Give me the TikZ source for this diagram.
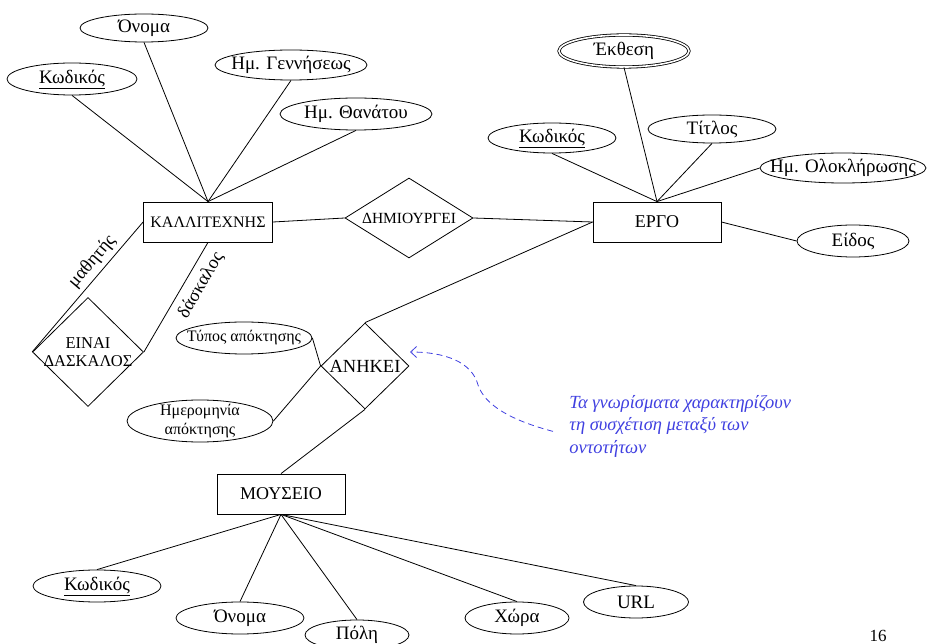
\documentclass[tikz,border=0pt]{standalone}
\usepackage{fontspec}
\setmainfont{Liberation Serif}
\usetikzlibrary{shapes.geometric,arrows.meta}
\definecolor{notecol}{RGB}{64,64,224}
\begin{document}
\begin{tikzpicture}[x=1pt,y=-1pt, line width=0.8pt,
  attr/.style={ellipse, draw, inner sep=-40pt, font=\fontsize{19}{21}\selectfont},
  sattr/.style={ellipse, draw, inner sep=-40pt, align=center, font=\fontsize{16}{18.5}\selectfont},
  ent/.style={rectangle, draw, minimum width=128pt, minimum height=40pt, inner sep=0pt},
  rel/.style={diamond, draw, inner sep=-40pt, align=center},
  role/.style={font=\fontsize{18.5}{20}\selectfont, inner sep=1pt},
  link/.style={draw}
]
\useasboundingbox (0,0) rectangle (930,644);

% entities
\node[ent, minimum width=129pt, font=\fontsize{16}{18}\selectfont] (kal) at (208,222) {ΚΑΛΛΙΤΕΧΝΗΣ};
\node[ent, font=\fontsize{18}{20}\selectfont] (ergo) at (657,222) {ΕΡΓΟ};
\node[ent, font=\fontsize{18}{20}\selectfont] (mus) at (281,494) {ΜΟΥΣΕΙΟ};

% relationships
\node[rel, minimum width=128pt, minimum height=80pt, font=\fontsize{15.5}{18}\selectfont] (dim) at (409,218) {ΔΗΜΙΟΥΡΓΕΙ};
\node[rel, minimum width=88pt, minimum height=86pt, font=\fontsize{18.5}{20}\selectfont] (anh) at (365,366) {ΑΝΗΚΕΙ};
\node[rel, minimum width=111pt, minimum height=109pt, font=\fontsize{16.5}{17.5}\selectfont] (das) at (88,352) {ΕΙΝΑΙ\\ΔΑΣΚΑΛΟΣ};

% attributes of ΚΑΛΛΙΤΕΧΝΗΣ
\node[attr, minimum width=130pt, minimum height=32pt] (a1) at (72,79) {\underline{Κωδικός}};
\node[attr, minimum width=128pt, minimum height=28pt] (a2) at (144,28) {Όνομα};
\node[attr, minimum width=152pt, minimum height=30pt] (a3) at (291,65) {Ημ. Γεννήσεως};
\node[attr, minimum width=152pt, minimum height=32pt] (a4) at (356,114) {Ημ. Θανάτου};

% attributes of ΕΡΓΟ
\node[attr, double, double distance=1.6pt, minimum width=130pt, minimum height=32pt] (e1) at (624,51) {Έκθεση};
\node[attr, minimum width=128pt, minimum height=30pt] (e2) at (552,138) {\underline{Κωδικός}};
\node[attr, minimum width=128pt, minimum height=28pt] (e3) at (712,129) {Τίτλος};
\node[attr, minimum width=166pt, minimum height=30pt] (e4) at (843,168) {Ημ. Ολοκλήρωσης};
\node[attr, minimum width=112pt, minimum height=32pt] (e5) at (853,241) {Είδος};

% attributes of ΑΝΗΚΕΙ
\node[sattr, minimum width=136pt, minimum height=32pt] (r1) at (244,338) {Τύπος απόκτησης};
\node[sattr, minimum width=146pt, minimum height=42pt] (r2) at (200,421) {Ημερομηνία\\απόκτησης};

% attributes of ΜΟΥΣΕΙΟ
\node[attr, minimum width=128pt, minimum height=32pt] (m1) at (97,586) {\underline{Κωδικός}};
\node[attr, minimum width=128pt, minimum height=32pt] (m2) at (240,618) {Όνομα};
\node[attr, minimum width=104pt, minimum height=30pt] (m3) at (357,635) {Πόλη};
\node[attr, minimum width=104pt, minimum height=32pt] (m4) at (517,618) {Χώρα};
\node[attr, minimum width=105pt, minimum height=32pt] (m5) at (636,602) {URL};

% connectors
\draw (a1.south) -- (kal.north);
\draw (a2.south) -- (kal.north);
\draw (a3.south) -- (kal.north);
\draw (a4.south) -- (kal.north);
\draw (e1.south) -- (ergo.north);
\draw (e2.south) -- (ergo.north);
\draw (e3.south) -- (ergo.north);
\draw (e4.west) -- (ergo.north);
\draw (ergo.east) -- (e5.west);
\draw (kal.east) -- (dim.west);
\draw (dim.east) -- (ergo.west);
\draw (anh.north) -- (ergo.west);
\draw (anh.south) -- (mus.north);
\draw (r1.east) -- (anh.west);
\draw (r2.east) -- (anh.west);
\draw (das.west) -- node[role, sloped, above=3pt, pos=0.63] (lmath) {μαθητής} (kal.west);
\draw (das.east) -- node[role, sloped, below=6pt, pos=0.68] (ldask) {δάσκαλος} (kal.south);
\draw (m1.north) -- (mus.south);
\draw (m2.north) -- (mus.south);
\draw (m3.north) -- (mus.south);
\draw (m4.north) -- (mus.south);
\draw (m5.north) -- (mus.south);

% note
\node[anchor=north west, inner sep=0pt, align=left, text=notecol,
      font=\fontsize{18.5}{22.5}\selectfont\itshape] (note) at (569,395)
  {Τα γνωρίσματα χαρακτηρίζουν\\τη συσχέτιση μεταξύ των\\οντοτήτων};
\coordinate (tip) at (410,352);
\draw[notecol, line width=0.8pt, dash pattern=on 6pt off 4pt,
      -{Straight Barb[length=6pt, width=11pt]}]
  ([xshift=-16pt, yshift=-5pt]note.west) .. controls (510,420) and (485,405) .. (478,385)
  .. controls (472,362) and (445,352) .. (tip);

% page number
\node[font=\fontsize{17}{18}\selectfont] (pnum) at (878,636) {16};
\end{tikzpicture}
\end{document}
